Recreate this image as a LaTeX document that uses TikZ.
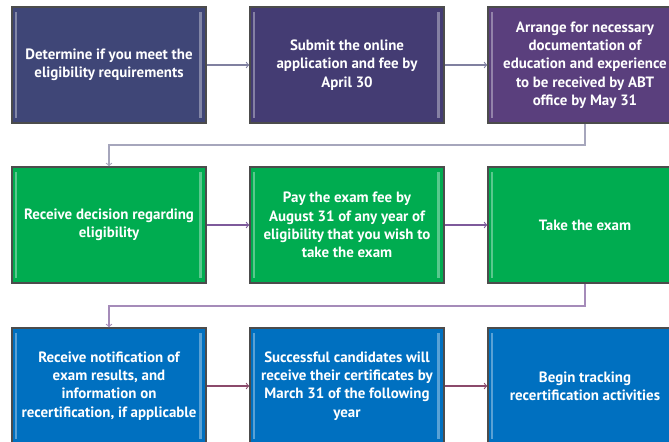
\documentclass[tikz,border=0pt]{standalone}
\usepackage{fontspec}
\setmainfont{PT Sans}
\usetikzlibrary{arrows}
\definecolor{slateA}{HTML}{3F4677}
\definecolor{slateB}{HTML}{443C73}
\definecolor{plum}{HTML}{5A3F7D}
\definecolor{leaf}{HTML}{00AC50}
\definecolor{ocean}{HTML}{0070C0}
\definecolor{arrA}{HTML}{8080A0}
\definecolor{arrB}{HTML}{7E5A9B}
\definecolor{arrC}{HTML}{8B4A6B}
\tikzset{
    stepbox/.style = {
        draw=gray!60!black, line width=1pt, minimum width=145.5pt,
        minimum height=87pt, align=center, text=white, inner sep=2pt,
        font=\fontsize{11.2}{13.7}\selectfont\bfseries,
        path picture = {
            \draw [white, opacity=0.35, line width=2pt]
                ([shift={(3pt,-4pt)}]path picture bounding box.north west) --
                ([shift={(3pt,4pt)}]path picture bounding box.south west);
            \draw [white, opacity=0.35, line width=2pt]
                ([shift={(-4pt,-4pt)}]path picture bounding box.north east) --
                ([shift={(-4pt,4pt)}]path picture bounding box.south east);
        }
    },
    flow/.style = {->, >=to, line width=0.8pt}
}

\begin{document}
\begin{tikzpicture}[x=0.75pt, y=-0.75pt]
    \clip (0,0) rectangle (669,442);

    % first row
    \node [stepbox, fill=slateA] (elig) at (109,65) {Determine if you meet the\\eligibility requirements};
    \node [stepbox, fill=slateB] (apply) at (347,65) {Submit the online\\application and fee by\\April 30};
    \node [stepbox, fill=plum] (docs) at (585,65) {Arrange for necessary\\documentation of\\education and experience\\to be received by ABT\\office by May 31};

    % second row
    \node [stepbox, fill=leaf] (decide) at (109,225) {Receive decision regarding\\eligibility};
    \node [stepbox, fill=leaf] (pay) at (347,225) {Pay the exam fee by\\August 31 of any year of\\eligibility that you wish to\\take the exam};
    \node [stepbox, fill=leaf] (exam) at (585,225) {Take the exam};

    % third row
    \node [stepbox, fill=ocean] (notify) at (109,386) {Receive notification of\\exam results, and\\information on\\recertification, if applicable};
    \node [stepbox, fill=ocean] (certs) at (347,386) {Successful candidates will\\receive their certificates by\\March 31 of the following\\year};
    \node [stepbox, fill=ocean] (track) at (585,386) {Begin tracking\\recertification activities};

    \coordinate (turnA) at (585,145);
    \coordinate (turnB) at (585,306);

    \draw [flow, arrA] (elig)--(apply);
    \draw [flow, arrA] (apply)--(docs);
    \draw [flow, arrA!70!white] (docs.south) |- (turnA) -| (decide.north);

    \draw [flow, arrB] (decide)--(pay);
    \draw [flow, arrB] (pay)--(exam);
    \draw [flow, arrB!70!white] (exam.south) |- (turnB) -| (notify.north);

    \draw [flow, arrC] (notify)--(certs);
    \draw [flow, arrC] (certs)--(track);

\end{tikzpicture}
\end{document}
